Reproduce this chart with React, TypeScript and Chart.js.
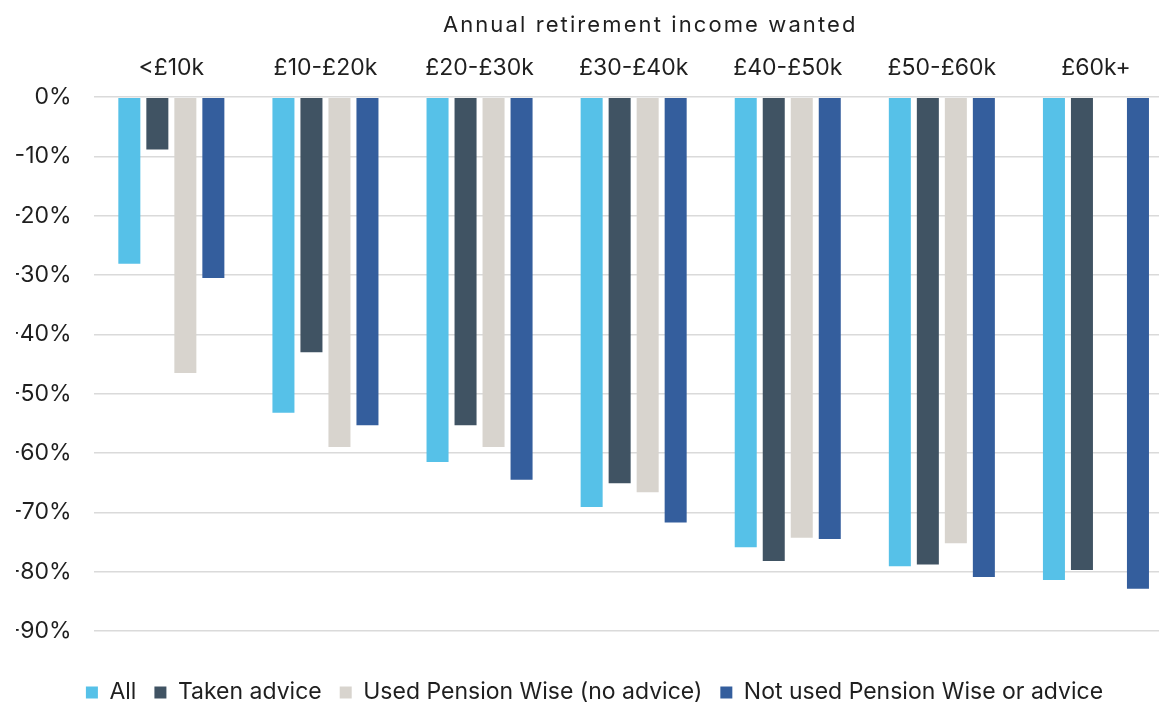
import React, { useEffect, useRef } from "react";
import { Chart, registerables } from "chart.js";

Chart.register(...registerables);

const categories = ["<£10k", "£10-£20k", "£20-£30k", "£30-£40k", "£40-£50k", "£50-£60k", "£60k+"];
const seriesNames = ["All", "Taken advice", "Used Pension Wise (no advice)", "Not used Pension Wise or advice"];
const allValues = [-28.1, -53.2, -61.5, -69.1, -75.9, -79.1, -81.4];
const takenAdvice = [-8.8, -43.0, -55.3, -65.1, -78.2, -78.8, -79.7];
const usedPensionWise = [-46.5, -59.0, -59.0, -66.6, -74.3, -75.2, null];
const notUsed = [-30.5, -55.3, -64.5, -71.7, -74.5, -80.9, -82.9];
const seriesColors = ["#56C1E8", "#405363", "#D8D4CE", "#345E9D"];
const axisTitle = "Annual retirement income wanted";
const yTicks = [0, -10, -20, -30, -40, -50, -60, -70, -80, -90];

const FONT = "Inter, 'Noto Sans', sans-serif";
const TEXT = "#1f1f1f";

const titleSpacingPlugin = {
  id: "titleSpacing",
  afterLayout(chart: any) {
    const s = chart.scales.x;
    if (s && !s.__patched) {
      const orig = s.drawTitle;
      s.drawTitle = function (...args: any[]) {
        const c = this.ctx;
        c.save();
        try {
          (c as any).letterSpacing = "2.1px";
        } catch (e) {}
        orig.apply(this, args);
        c.restore();
      };
      s.__patched = true;
    }
  },
};

export default function App() {
  const ref = useRef<HTMLCanvasElement | null>(null);

  useEffect(() => {
    if (!ref.current) return;
    const seriesData = [allValues, takenAdvice, usedPensionWise, notUsed];
    const chart = new Chart(ref.current, {
      type: "bar",
      data: {
        labels: categories,
        datasets: seriesNames.map((name, i) => ({
          label: name,
          data: seriesData[i],
          backgroundColor: seriesColors[i],
          borderWidth: 0,
          categoryPercentage: 0.727,
          barPercentage: 0.786,
        })),
      },
      plugins: [titleSpacingPlugin],
      options: {
        animation: false,
        responsive: false,
        devicePixelRatio: 1,
        layout: { padding: { left: 16, right: 19, top: 0, bottom: 0 } },
        plugins: {
          legend: {
            position: "bottom",
            labels: {
              font: { family: FONT, size: 23 },
              color: TEXT,
              boxWidth: 12,
              boxHeight: 12,
              padding: 18,
            },
          },
          tooltip: { enabled: false },
        },
        scales: {
          x: {
            position: "top",
            grid: { display: false, drawTicks: false },
            border: { display: false },
            ticks: {
              font: { family: FONT, size: 23 },
              color: TEXT,
              padding: 15.4,
              maxRotation: 0,
              autoSkip: false,
            },
            title: {
              display: true,
              text: "\u00A0\u00A0\u00A0\u00A0" + axisTitle,
              font: { family: FONT, size: 22 },
              color: TEXT,
              padding: { top: 12.4, bottom: 0 },
            },
          },
          y: {
            min: -95.4,
            max: 0,
            grid: { color: "#dadada", lineWidth: 1.5, drawTicks: false },
            border: { display: false },
            afterFit: (s: any) => {
              s.width = 78.3;
            },
            afterBuildTicks: (s: any) => {
              s.ticks = yTicks.map((v) => ({ value: v }));
            },
            ticks: {
              font: { family: FONT, size: 23 },
              color: TEXT,
              padding: 22.7,
              callback: (v: any) => v + "%",
            },
          },
        },
      },
    });
    return () => chart.destroy();
  }, []);

  return (
    <div
      style={{
        position: "fixed",
        left: 0,
        top: 0,
        width: 1159,
        height: 704,
        overflow: "hidden",
        background: "#fff",
      }}
    >
      <canvas ref={ref} width={1192} height={714} style={{ display: "block", width: 1192, height: 714 }} />
    </div>
  );
}
